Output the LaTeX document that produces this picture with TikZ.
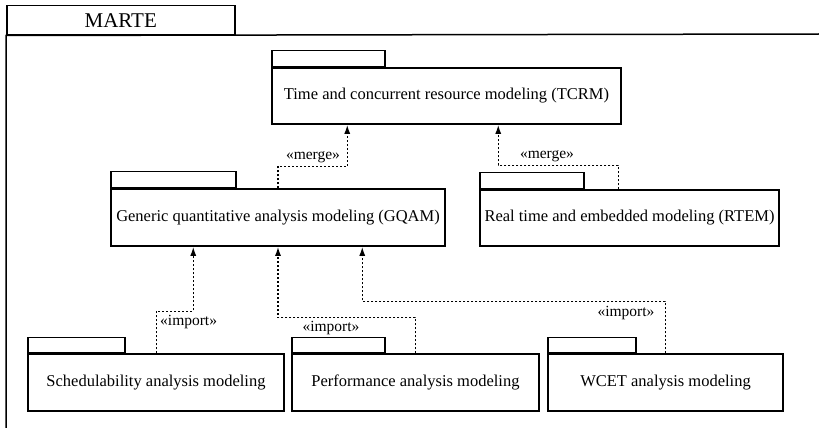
\documentclass[tikz,border=0pt]{standalone}
\usepackage{fontspec}
\setmainfont{Liberation Serif}
\usetikzlibrary{arrows.meta,calc}
\begin{document}
\begin{tikzpicture}[x=1pt,y=-1pt,
  pkg/.style={draw, line width=1.5pt, rectangle, inner sep=0pt, font=\fontsize{16.5}{19}\selectfont},
  tabbox/.style={draw, line width=1.5pt, rectangle, inner sep=0pt, anchor=south west},
  dep/.style={line width=1.5pt, dash pattern=on 2pt off 2pt, -{Latex[length=9pt,width=6pt]}},
  lbl/.style={font=\fontsize{15.5}{18}\selectfont, inner sep=0pt}]
\useasboundingbox (0,0) rectangle (819,428);
% frame
\node[draw, line width=1.5pt, minimum width=228pt, minimum height=29pt, inner sep=0pt,
      font=\fontsize{21}{24}\selectfont, anchor=north west] (martetab) at (6,5) {MARTE};
\coordinate (fr) at (819,34);
\coordinate (fb) at (6,428);
\draw[line width=1.5pt] (fr) -- (martetab.south west) -- (fb);
% packages
\node[pkg, minimum width=349pt, minimum height=56pt] (tcrm) at (446.5,96) {Time and concurrent resource modeling (TCRM)};
\node[tabbox, minimum width=113pt, minimum height=16pt] (tcrmtab) at (tcrm.north west) {};
\node[pkg, minimum width=334pt, minimum height=57pt] (gqam) at (278,217.5) {Generic quantitative analysis modeling (GQAM)};
\node[tabbox, minimum width=125pt, minimum height=16pt] (gqamtab) at (gqam.north west) {};
\node[pkg, minimum width=299pt, minimum height=56pt] (rtem) at (629.5,218) {Real time and embedded modeling (RTEM)};
\node[tabbox, minimum width=104pt, minimum height=16pt] (rtemtab) at (rtem.north west) {};
\node[pkg, minimum width=256pt, minimum height=57pt] (sched) at (156,382.5) {Schedulability analysis modeling};
\node[tabbox, minimum width=97pt, minimum height=15pt] (schedtab) at (sched.north west) {};
\node[pkg, minimum width=247pt, minimum height=57pt] (perf) at (415.5,382.5) {Performance analysis modeling};
\node[tabbox, minimum width=93pt, minimum height=15pt] (perftab) at (perf.north west) {};
\node[pkg, minimum width=235pt, minimum height=57pt] (wcet) at (665.5,382.5) {WCET analysis modeling};
\node[tabbox, minimum width=88pt, minimum height=15pt] (wcettab) at (wcet.north west) {};
% connectors
\draw[dep] (gqam.north) -- ++(0,-22) -| ([xshift=76pt]tcrm.south west);
\node[lbl] (m1) at (313,157) {«merge»};
\draw[dep] ([xshift=139pt]rtem.north west) -- ++(0,-24) -| ([xshift=227pt]tcrm.south west);
\node[lbl] (m2) at (547,156) {«merge»};
\draw[dep] ([xshift=129pt]sched.north west) -- ++(0,-42) -| ([xshift=83pt]gqam.south west);
\node[lbl, anchor=west] (i1) at (160,322) {«import»};
\draw[dep] ([xshift=124pt]perf.north west) -- ++(0,-36) -| (gqam.south);
\node[lbl] (i2) at (331,328) {«import»};
\draw[dep] ([xshift=118pt]wcet.north west) -- ++(0,-52) -| ([xshift=252pt]gqam.south west);
\node[lbl] (i3) at (626,313) {«import»};
\end{tikzpicture}
\end{document}
